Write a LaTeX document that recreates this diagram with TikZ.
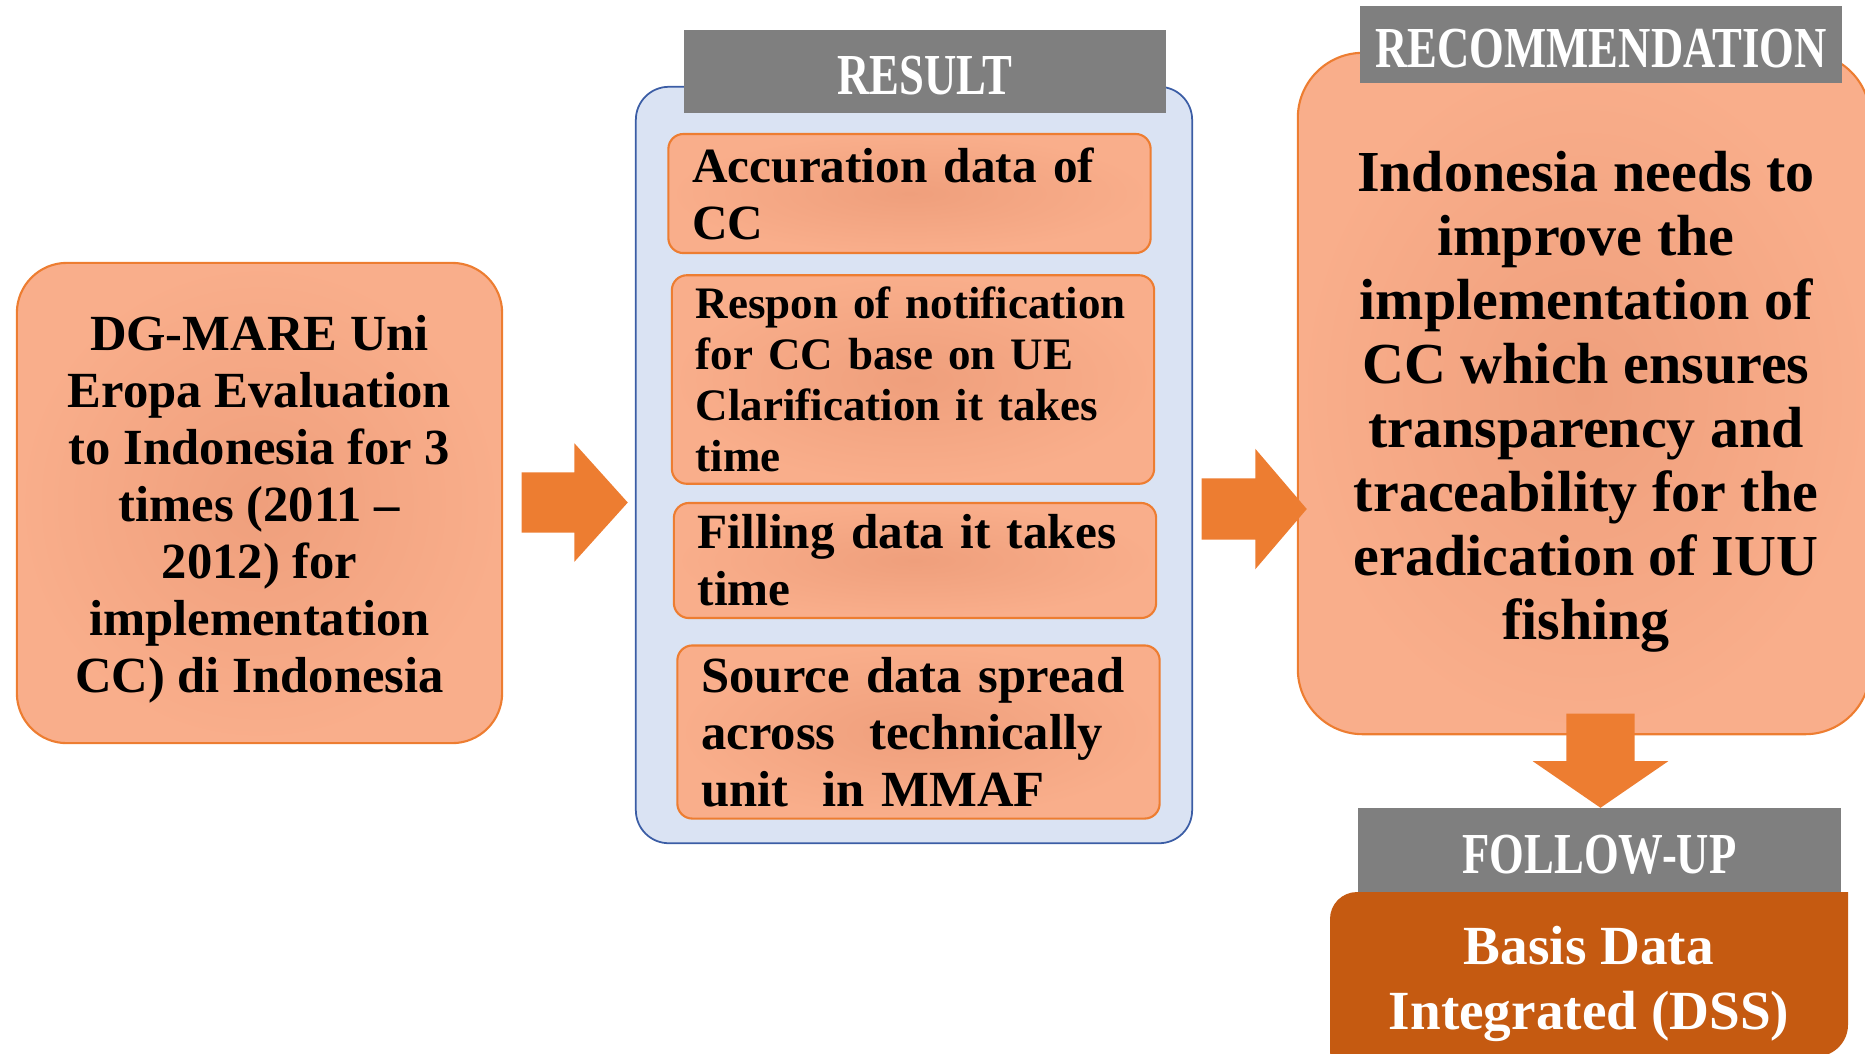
\documentclass[tikz,border=0pt]{standalone}
\usepackage{fontspec}
\setmainfont{Liberation Serif}
\newfontfamily\headfont[FakeStretch=0.77]{Liberation Serif}
\usetikzlibrary{shapes.arrows}

\definecolor{arrorange}{HTML}{ED7D31}
\definecolor{salmonedge}{HTML}{F9AE8B}
\definecolor{salmonmid}{HTML}{EF9F7C}
\definecolor{headgray}{HTML}{7F7F7F}
\definecolor{panelblue}{HTML}{DAE3F3}
\definecolor{panelline}{HTML}{3B5DA5}
\definecolor{basisfill}{HTML}{C55A11}

\tikzset{
  salmonbox/.style={draw=arrorange, line width=0.6pt, inner color=salmonmid, outer color=salmonedge},
  resultbox/.style={salmonbox, rounded corners=0.15cm, minimum width=4.82cm, text width=4.34cm,
    inner xsep=0.24cm, align=left},
  headbar/.style={fill=headgray, text=white, minimum width=4.82cm, text height=0.47cm,
    font=\headfont\bfseries\fontsize{16.5}{18}\selectfont},
  blockarrow/.style={single arrow, fill=arrorange, draw=none, anchor=tail}
}

\begin{document}
\begin{tikzpicture}[x=0.01cm,y=-0.01cm]
  \useasboundingbox (0,0) rectangle (1865,1053);
  \clip (0,0) rectangle (1865,1053);

  \node[salmonbox, rounded corners=0.5cm, minimum width=4.85cm, minimum height=4.8cm] (dgmare) at (259.5,503) {};
  \node[align=center, font=\bfseries\fontsize{14.4}{16.2}\selectfont] (dgmaretext) at ([yshift=-0.06cm]dgmare.center)
    {DG-MARE Uni\\Eropa Evaluation\\to Indonesia for 3\\times (2011 --\\2012) for\\implementation\\CC) di Indonesia};

  \node[fill=panelblue, draw=panelline, line width=0.5pt, rounded corners=0.33cm,
    minimum width=5.56cm, minimum height=7.56cm] (resultbg) at (914,465) {};
  \node[headbar, minimum height=0.83cm] (resulthead) at (925,71.5) {RESULT};

  \node[resultbox, minimum height=1.19cm, font=\bfseries\fontsize{14.0}{16.2}\selectfont] (accuration)
    at (909.5,193.5) {Accuration data of\\CC};
  \node[resultbox, minimum height=1.99cm, font=\bfseries\fontsize{12.8}{14.5}\selectfont] (respon)
    at (913,379.5) {Respon of notification\\for CC base on UE\\Clarification it takes\\time};
  \node[resultbox, minimum height=1.15cm, font=\bfseries\fontsize{14.0}{16.2}\selectfont] (filling)
    at (915,560.5) {Filling data it takes\\time};
  \node[resultbox, minimum height=1.72cm, font=\bfseries\fontsize{14.4}{16.2}\selectfont] (source)
    at (918.5,732) {Source data spread\\across~~technically\\unit~~in MMAF};

  \node[salmonbox, rounded corners=0.65cm, minimum width=5.72cm, minimum height=6.81cm] (recbox) at (1584,393.5) {};
  \node[align=center, font=\bfseries\fontsize{16.5}{18.2}\selectfont] (rectext) at ([xshift=0.02cm,yshift=-0.085cm]recbox.center)
    {Indonesia needs to\\improve the\\implementation of\\CC which ensures\\transparency and\\traceability for the\\eradication of IUU\\fishing};
  \node[headbar, minimum height=0.77cm] (rechead) at (1601,44.5) {RECOMMENDATION};

  \node[blockarrow, inner xsep=0pt, inner ysep=0.295cm, single arrow head extend=0.29cm, minimum height=1.06cm,
    single arrow tip angle=96] (arrresult) at (521,502.5) {};
  \node[blockarrow, inner xsep=0pt, inner ysep=0.30cm, single arrow head extend=0.295cm, minimum height=1.05cm,
    single arrow tip angle=99] (arrrec) at (1201,509) {};
  \node[blockarrow, shape border rotate=270, inner xsep=0.335cm, inner ysep=0pt, single arrow head extend=0.335cm,
    minimum height=0.94cm, single arrow tip angle=111] (arrfollow) at (1600.5,713) {};

  \node[headbar, minimum width=4.83cm, minimum height=0.84cm] (followhead) at (1599.5,850) {FOLLOW-UP};
  \fill[basisfill] (1330,1080) [rounded corners=0.27cm] -- (1330,892) [sharp corners] -- (1848,892)
    [rounded corners=0.3cm] -- (1848,1055) -- cycle;
  \node[text=white, align=center, font=\bfseries\fontsize{15.7}{18.5}\selectfont] (basis) at (1589,984)
    {Basis Data\\Integrated (DSS)};
\end{tikzpicture}
\end{document}
